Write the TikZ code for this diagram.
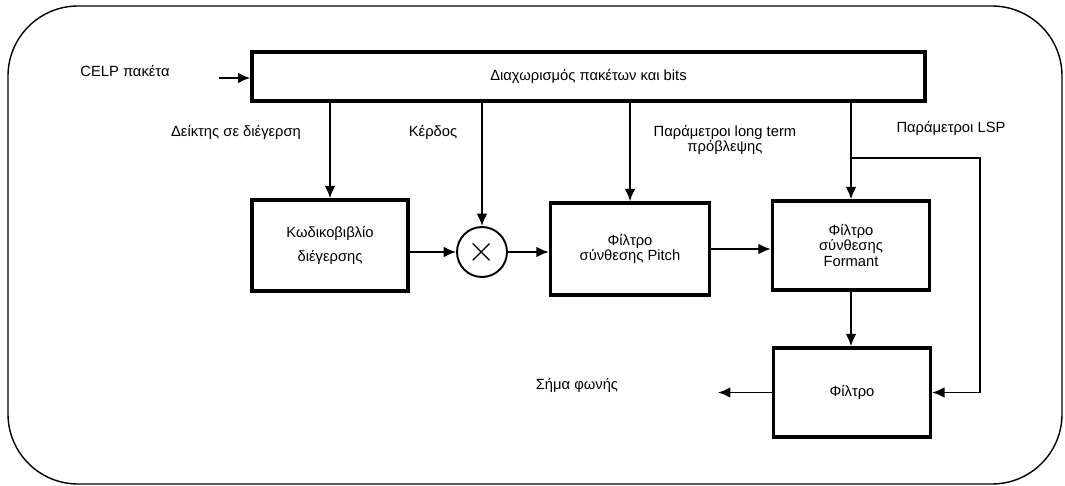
\documentclass[tikz,border=0pt]{standalone}
\usepackage{fontspec}
\setmainfont{Liberation Sans}
\usetikzlibrary{arrows.meta}
\tikzset{
  block/.style={draw, line width=2pt, align=center, inner sep=0pt, font=\fontsize{8.4}{9}\selectfont},
  lbl/.style={align=center, inner sep=0pt, font=\fontsize{8.4}{9}\selectfont},
  conn/.style={line width=1.1pt, -{Latex[length=7pt,width=6pt]}},
  wire/.style={line width=1.1pt}
}
\begin{document}
\begin{tikzpicture}[x=0.02cm,y=-0.02cm]
\useasboundingbox (0,0) rectangle (1065,486);
\draw[line width=0.8pt, rounded corners=1.4cm] (8,6) rectangle (1062,484);
% blocks
\node[block, minimum width=13.46cm, minimum height=0.98cm] (split) at (588.5,76.5) {Διαχωρισμός πακέτων και bits};
\node[block, minimum width=3.12cm, minimum height=1.82cm] (book) at (330,245.5) {Κωδικοβιβλίο\\[5pt] διέγερσης};
\node[draw, circle, line width=1.1pt, minimum size=1cm, inner sep=0pt, font=\huge] (mult) at (482,252) {$\times$};
\node[block, minimum width=3.18cm, minimum height=1.84cm] (pitch) at (630,249) {Φίλτρο\\ σύνθεσης Pitch};
\node[block, minimum width=3.14cm, minimum height=1.78cm] (formant) at (851,245.5) {Φίλτρο\\ σύνθεσης\\ Formant};
\node[block, minimum width=3.14cm, minimum height=1.78cm] (filt) at (852,392.5) {Φίλτρο};
% labels
\node[lbl] (celp) at (125,71) {CELP πακέτα};
\node[lbl] (idx) at (236,132) {Δείκτης σε διέγερση};
\node[lbl] (gain) at (433,132) {Κέρδος};
\node[lbl] (ltp) at (725,140) {Παράμετροι long term\\ πρόβλεψης};
\node[lbl] (lsp) at (951,128) {Παράμετροι LSP};
\node[lbl] (speech) at (577,385) {Σήμα φωνής};
\coordinate (in) at (219,78);
\coordinate (br) at (851,158);
\coordinate (rt) at (980,158);
\coordinate (out) at (718,392.5);
% connectors
\draw[conn] (in) -- (split.west |- in);
\draw[conn] (book.north |- split.south) -- (book.north);
\draw[conn] (mult.north |- split.south) -- (mult.north);
\draw[conn] (pitch.north |- split.south) -- (pitch.north);
\draw[conn] (formant.north |- split.south) -- (formant.north);
\draw[conn] (br) -- (rt) |- (filt.east);
\draw[conn] (book.east |- mult) -- (mult.west);
\draw[conn] (mult.east) -- (pitch.west |- mult);
\draw[conn] (pitch.east) -- (formant.west |- pitch.east);
\draw[conn] (formant.south) -- (filt.north -| formant.south);
\draw[conn] (filt.west) -- (out);
\end{tikzpicture}
\end{document}
